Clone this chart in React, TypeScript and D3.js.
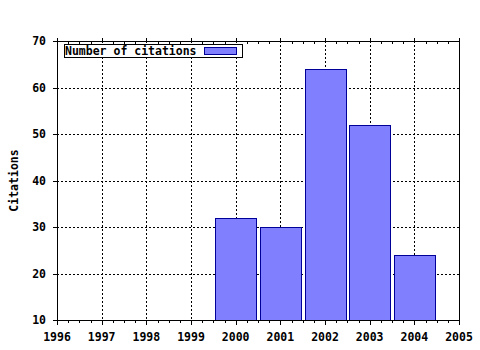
import React from "react";
import * as d3 from "d3";

const years = [1996, 1997, 1998, 1999, 2000, 2001, 2002, 2003, 2004, 2005];
const barYears = [2000, 2001, 2002, 2003, 2004];
const citations = [32, 30, 64, 52, 24];
const yTicks = [10, 20, 30, 40, 50, 60, 70];
const seriesName = "Number of citations";
const yTitle = "Citations";

const W = 480;
const H = 350;
const L = 57, R = 459, T = 41, B = 320;
const FONT = "'DejaVu Sans Mono', 'Liberation Mono', monospace";

export default function App() {
  const x = d3.scaleLinear().domain([1996, 2005]).range([L, R]);
  const y = d3.scaleLinear().domain([10, 70]).range([B, T]);
  const step = x(1997) - x(1996);
  const bw = step * 0.91;
  const minor: number[] = [];
  for (let i = 0; i < years.length - 1; i++) {
    for (let k = 1; k < 4; k++) minor.push(years[i] + k / 4);
  }
  return (
    <svg width={W} height={H} style={{ position: "absolute", left: 0, top: 0, background: "#fff" }}
      fontFamily={FONT} fontWeight="bold" fontSize={11.5}>
      <rect x={0} y={0} width={W} height={H} fill="#fff" />
      {/* grid */}
      <g stroke="#000" strokeWidth={1} strokeDasharray="2,2" shapeRendering="crispEdges">
        {years.slice(1, -1).map((yr) => (
          <line key={"gx" + yr} x1={Math.round(x(yr)) + 0.5} x2={Math.round(x(yr)) + 0.5} y1={T} y2={B} />
        ))}
        {yTicks.slice(1, -1).map((v) => (
          <line key={"gy" + v} x1={L} x2={R} y1={Math.round(y(v)) + 0.5} y2={Math.round(y(v)) + 0.5} />
        ))}
      </g>
      {/* bars */}
      <g fill="#8080ff" stroke="#000099" strokeWidth={1} shapeRendering="crispEdges">
        {barYears.map((yr, i) => (
          <rect key={yr} x={Math.round(x(yr) - bw / 2) + 0.5} y={Math.round(y(citations[i])) + 0.5}
            width={Math.round(bw)} height={Math.round(y(10) - y(citations[i]))} />
        ))}
      </g>
      {/* frame / axes */}
      <g stroke="#000" strokeWidth={1} shapeRendering="crispEdges" fill="none">
        <line x1={L + 0.5} x2={L + 0.5} y1={T} y2={B + 1} />
        <line x1={R + 0.5} x2={R + 0.5} y1={T} y2={B + 1} />
        <line x1={L} x2={R + 1} y1={T + 0.5} y2={T + 0.5} />
        <line x1={L} x2={R + 1} y1={B + 0.5} y2={B + 0.5} />
        {years.map((yr) => (
          <g key={"tx" + yr}>
            <line x1={Math.round(x(yr)) + 0.5} x2={Math.round(x(yr)) + 0.5} y1={B} y2={B + 5} />
            <line x1={Math.round(x(yr)) + 0.5} x2={Math.round(x(yr)) + 0.5} y1={T - 3} y2={T} />
          </g>
        ))}
        {minor.map((m) => (
          <g key={"mx" + m}>
            <line x1={Math.round(x(m)) + 0.5} x2={Math.round(x(m)) + 0.5} y1={B} y2={B + 3} />
            <line x1={Math.round(x(m)) + 0.5} x2={Math.round(x(m)) + 0.5} y1={T} y2={T + 3} />
          </g>
        ))}
        {yTicks.map((v) => (
          <line key={"ty" + v} x1={L - 4} x2={L + 2} y1={Math.round(y(v)) + 0.5} y2={Math.round(y(v)) + 0.5} />
        ))}
      </g>
      {/* tick labels */}
      {years.map((yr) => (
        <text key={"lx" + yr} x={x(yr)} y={341} textAnchor="middle" fill="#000">{yr}</text>
      ))}
      {yTicks.map((v) => (
        <text key={"ly" + v} x={46} y={y(v) + 4} textAnchor="end" fill="#000">{v}</text>
      ))}
      <text transform={`translate(18, ${(T + B) / 2}) rotate(-90)`} textAnchor="middle" fill="#000">{yTitle}</text>
      {/* legend */}
      <rect x={64.5} y={44.5} width={178} height={13} fill="#fff" stroke="#000" shapeRendering="crispEdges" />
      <text x={65} y={55} fill="#000">{seriesName}</text>
      <rect x={204.5} y={47.5} width={32} height={7} fill="#8080ff" stroke="#000099" shapeRendering="crispEdges" />
    </svg>
  );
}
